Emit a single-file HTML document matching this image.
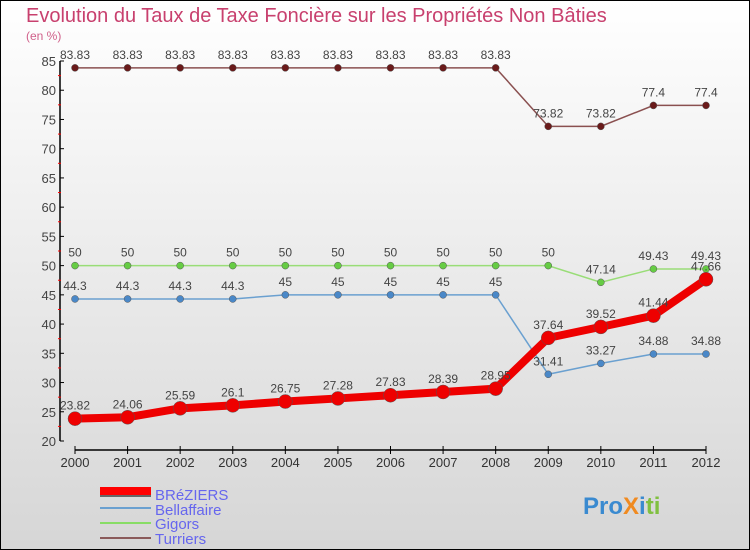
<!DOCTYPE html>
<html><head><meta charset="utf-8"><style>
body{margin:0;}
#c{width:750px;height:550px;position:relative;overflow:hidden;box-sizing:border-box;border:1px solid #000;background:linear-gradient(#ffffff,#d6d6d6);font-family:"Liberation Sans",sans-serif;}
</style></head><body>
<div id="c">
<svg id="s" width="750" height="550" style="position:absolute;left:-1px;top:-1px">
<text x="26" y="22" font-size="20" fill="#c8406e">Evolution du Taux de Taxe Foncière sur les Propriétés Non Bâties</text>
<text x="26" y="40" font-size="12" fill="#d0608a">(en %)</text>
<g id="axes"></g>
<g id="series"></g>
<g>
<rect x="100" y="489" width="51" height="8" fill="#666"/>
<rect x="100" y="487" width="51" height="8" fill="#f00"/>
<text x="155" y="500" font-size="15" fill="#6666ee">BRéZIERS</text>
<line x1="100" y1="508" x2="151" y2="508" stroke="#6aa0d0" stroke-width="2"/>
<text x="155" y="515" font-size="15" fill="#6666ee">Bellaffaire</text>
<line x1="100" y1="523" x2="151" y2="523" stroke="#88dd66" stroke-width="2"/>
<text x="155" y="529" font-size="15" fill="#6666ee">Gigors</text>
<line x1="100" y1="538" x2="151" y2="538" stroke="#8a5a5a" stroke-width="2"/>
<text x="155" y="544" font-size="15" fill="#6666ee">Turriers</text>
</g>
<text x="583" y="514" font-size="24" font-weight="bold"><tspan fill="#3a8ad0">Pro</tspan><tspan fill="#f08a20">X</tspan><tspan fill="#3a8ad0">i</tspan><tspan fill="#80c040">ti</tspan></text>
</svg>
</div>
<script>
const years=[2000,2001,2002,2003,2004,2005,2006,2007,2008,2009,2010,2011,2012];
const breziers=[23.82,24.06,25.59,26.1,26.75,27.28,27.83,28.39,28.95,37.64,39.52,41.44,47.66];
const bellaffaire=[44.3,44.3,44.3,44.3,45,45,45,45,45,31.41,33.27,34.88,34.88];
const gigors=[50,50,50,50,50,50,50,50,50,50,47.14,49.43,49.43];
const turriers=[83.83,83.83,83.83,83.83,83.83,83.83,83.83,83.83,83.83,73.82,73.82,77.4,77.4];
const yTicks=[20,25,30,35,40,45,50,55,60,65,70,75,80,85];
const NS="http://www.w3.org/2000/svg";
const X=i=>75+i*(706-75)/(years.length-1);
const Y=v=>441-(v-20)*(441-61)/65;
function mk(t,a,p){const e=document.createElementNS(NS,t);for(const k in a)e.setAttribute(k,a[k]);p.appendChild(e);return e;}
const ax=document.getElementById('axes');
let e=mk('line',{x1:60,y1:Y(85),x2:60,y2:Y(20),stroke:'#000','stroke-width':1.5},ax);


yTicks.forEach(v=>{
 let t=mk('line',{x1:60,y1:Y(v),x2:64,y2:Y(v),stroke:'#000'},ax);
 
 
 let m=mk('line',{x1:58,y1:Y(v+2.5),x2:61,y2:Y(v+2.5),stroke:'#f00'},ax);
 if(v===85)m.remove();
 
 
 let l=mk('text',{x:56,y:Y(v)+5,'font-size':13,fill:'#444','text-anchor':'end'},ax);
 l.textContent=v;
 
 
});
e=mk('line',{x1:X(0),y1:450,x2:X(12),y2:450,stroke:'#000','stroke-width':1.5},ax);


years.forEach((yr,i)=>{
 let t=mk('line',{x1:X(i),y1:446,x2:X(i),y2:454,stroke:'#000'},ax);
 
 
 let l=mk('text',{x:X(i),y:467,'font-size':13,fill:'#333','text-anchor':'middle'},ax);
 l.textContent=yr;
 
 
});
const sg=document.getElementById('series');
function series(arr,name,col,dot,w,r){
 const g=mk('g',{},sg);
 
 
 const pl=mk('polyline',{points:arr.map((v,i)=>X(i)+','+Y(v)).join(' '),fill:'none',stroke:col,'stroke-width':w},g);
 
 
 arr.forEach((v,i)=>{
  const c=mk('circle',{cx:X(i),cy:Y(v),r:r,fill:dot,stroke:'#555','stroke-width':0.5},g);
  
  
  const l=mk('text',{x:X(i),y:Y(v)-9,'font-size':12,fill:'#444','text-anchor':'middle'},g);
  l.textContent=v;
  
  
 });
}
series(turriers,'turriers','#8a5050','#6a1a1a',1.5,3.5);
series(gigors,'gigors','#99dd77','#66cc44',1.5,3.5);
series(bellaffaire,'bellaffaire','#6aa0d0','#4a88c8',1.5,3.5);
series(breziers,'breziers','#ee0000','#ee0000',8,7);
</script>
</body></html>
